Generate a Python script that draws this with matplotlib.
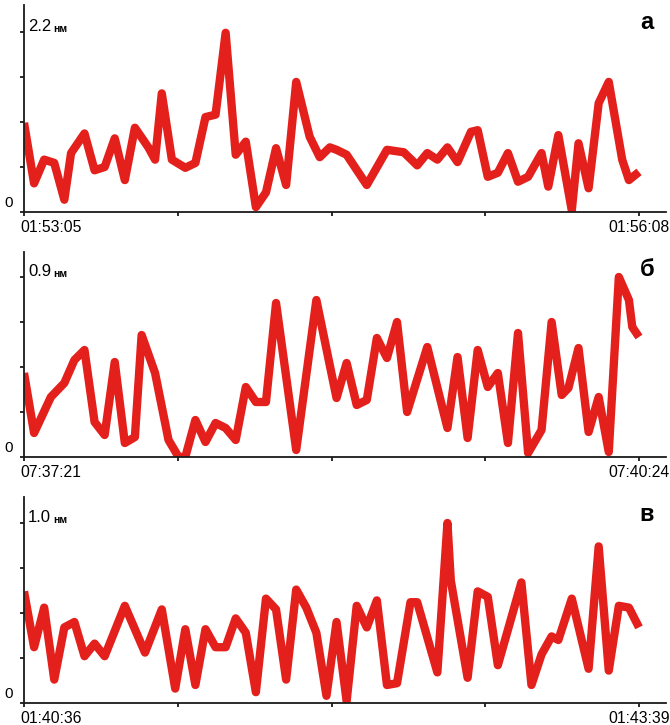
import matplotlib
matplotlib.use("Agg")
import matplotlib.pyplot as plt
from matplotlib.transforms import ScaledTranslation

plt.rcParams['font.family'] = ['Liberation Sans', 'DejaVu Sans']

# panel a: 01:53:05 - 01:56:08, seconds from start / amplitude in nm
a_t = [0, 3, 6, 9, 12, 14, 18, 21, 24, 27, 30, 33, 37, 39, 41, 44, 48, 51, 54, 57,
       60, 63, 66, 69, 72, 75, 78, 81, 85, 88, 91, 93, 96, 102, 108, 113, 117, 120, 123, 126,
       129, 133, 135, 138, 141, 144, 147, 150, 154, 156, 159, 163, 165, 168, 171, 174, 178, 180, 183]
a_v = [1.09, 0.35, 0.64, 0.60, 0.15, 0.72, 0.96, 0.51, 0.55, 0.90, 0.39, 1.03, 0.79, 0.64, 1.45, 0.64, 0.54, 0.60, 1.16, 1.19,
       2.19, 0.70, 0.86, 0.06, 0.24, 0.78, 0.33, 1.59, 0.92, 0.67, 0.79, 0.76, 0.70, 0.33, 0.76, 0.73, 0.57, 0.72, 0.64, 0.79,
       0.61, 0.98, 1.00, 0.43, 0.48, 0.72, 0.37, 0.43, 0.72, 0.31, 0.94, 0.02, 0.84, 0.29, 1.33, 1.59, 0.64, 0.39, 0.49]

# panel b: 07:37:21 - 07:40:24
b_t = [0, 3, 8, 12, 15, 18, 21, 24, 27, 30, 33, 35, 39, 43, 46, 48, 51, 54, 57, 60,
       63, 66, 69, 72, 75, 81, 87, 93, 96, 99, 102, 105, 108, 111, 114, 120, 126, 129, 132, 135,
       138, 141, 144, 147, 150, 154, 157, 160, 162, 165, 168, 171, 174, 177, 180, 181, 183]
b_v = [0.42, 0.12, 0.30, 0.37, 0.485, 0.535, 0.175, 0.11, 0.475, 0.07, 0.10, 0.61, 0.42, 0.085, 0.0, 0.0, 0.185, 0.075, 0.17, 0.145,
       0.085, 0.35, 0.275, 0.275, 0.77, 0.035, 0.785, 0.295, 0.47, 0.26, 0.285, 0.595, 0.495, 0.675, 0.225, 0.55, 0.145, 0.50, 0.095, 0.535,
       0.35, 0.42, 0.07, 0.62, 0.02, 0.135, 0.675, 0.31, 0.345, 0.545, 0.125, 0.30, 0.025, 0.90, 0.785, 0.65, 0.60]

# panel c: 01:40:36 - 01:43:39
c_t = [0, 3, 6, 9, 12, 15, 18, 21, 24, 30, 36, 41, 45, 48, 51, 54, 57, 60, 63, 66,
       69, 72, 75, 78, 81, 84, 87, 90, 93, 96, 99, 102, 105, 108, 111, 115, 117, 123, 126, 127,
       132, 135, 138, 141, 148, 151, 154, 157, 159, 163, 168, 171, 174, 177, 180, 183]
c_v = [0.62, 0.31, 0.53, 0.13, 0.42, 0.45, 0.26, 0.33, 0.26, 0.54, 0.28, 0.52, 0.08, 0.41, 0.10, 0.41, 0.31, 0.31, 0.47, 0.39,
       0.06, 0.58, 0.52, 0.13, 0.63, 0.53, 0.39, 0.04, 0.45, 0.01, 0.54, 0.42, 0.57, 0.10, 0.11, 0.56, 0.56, 0.17, 1.00, 0.68,
       0.14, 0.62, 0.59, 0.21, 0.67, 0.10, 0.27, 0.37, 0.35, 0.58, 0.19, 0.87, 0.18, 0.54, 0.53, 0.42]

panels = [
    (a_t, a_v, 2.2, '2.2', '01:53:05', '01:56:08', 'а'),
    (b_t, b_v, 0.9, '0.9', '07:37:21', '07:40:24', 'б'),
    (c_t, c_v, 1.0, '1.0', '01:40:36', '01:43:39', 'в'),
]
duration = 183

W, H = 670, 725
fig = plt.figure(figsize=(W / 100, H / 100), dpi=100)
fig.patch.set_facecolor('white')

# pixel boxes (top, bottom) of each panel
boxes = [(5, 212), (252, 457), (497, 703)]
left_px, right_px, end_px = 24, 666, 639
red = '#e4201c'

for (t, v, vmax, top_lbl, start_lbl, end_lbl, letter), (top, bot) in zip(panels, boxes):
    ax = fig.add_axes([left_px / W, 1 - bot / H, (right_px - left_px) / W, (bot - top) / H])
    # top tick sits 180 px above the baseline
    ax.set_ylim(0, vmax * (bot - top) / 180)
    ax.set_xlim(0, duration * (right_px - left_px) / (end_px - left_px))

    ax.plot(t, v, color=red, lw=6, solid_joinstyle='round', solid_capstyle='butt')

    for s in ['top', 'right']:
        ax.spines[s].set_visible(False)
    for s in ['left', 'bottom']:
        ax.spines[s].set_linewidth(1.3)
        ax.spines[s].set_color('#1a1a1a')

    ax.set_yticks([vmax * k / 4 for k in range(5)])
    ax.set_yticklabels([])
    ax.tick_params(axis='y', direction='out', length=3, width=1.3, color='#1a1a1a')

    ax.set_xticks([duration * k / 4 for k in range(5)])
    ax.set_xticklabels([start_lbl, '', '', '', end_lbl], fontsize=11.3)
    ax.tick_params(axis='x', direction='out', length=3, width=1.3, pad=3, color='#1a1a1a')
    first = ax.get_xticklabels()[0]
    first.set_horizontalalignment('left')
    first.set_transform(first.get_transform() + ScaledTranslation(-4 / 100, 0, fig.dpi_scale_trans))

    ax.annotate('0', xy=(0, 0), xytext=(-15, 2), textcoords='offset pixels',
                ha='center', va='bottom', fontsize=11)
    t1 = ax.annotate(top_lbl, xy=(0, vmax), xytext=(4, 1), textcoords='offset pixels',
                     ha='left', va='baseline', fontsize=12)
    ax.annotate('нм', xy=(1, 0), xycoords=t1, xytext=(2, 0), textcoords='offset pixels',
                ha='left', va='bottom', fontsize=7.5, fontweight='bold')

    ax.text(0.970, 0.915, letter, transform=ax.transAxes, ha='center', va='center',
            fontsize=17, fontweight='bold')

fig.savefig('out.png', dpi=100, facecolor='white')
